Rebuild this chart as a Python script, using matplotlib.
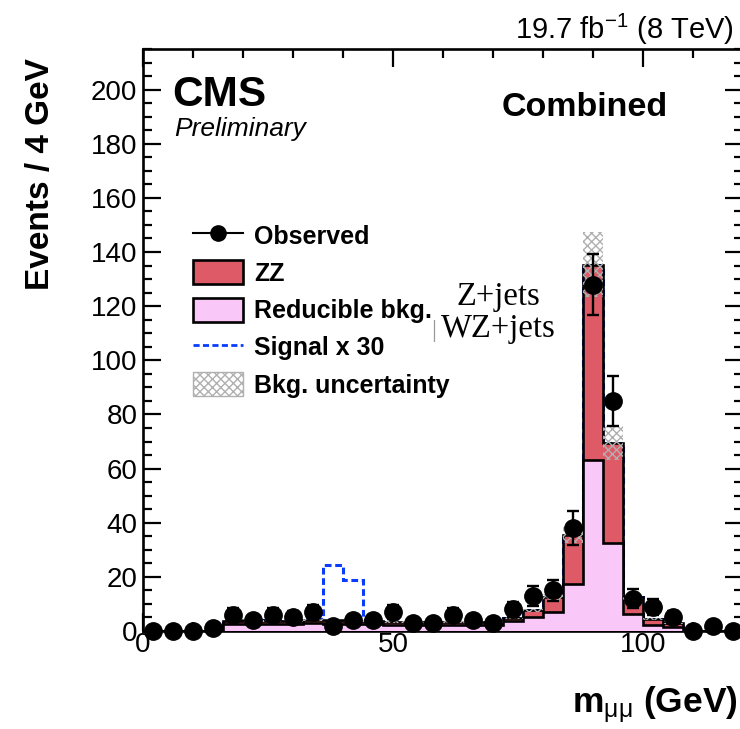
import numpy as np
import matplotlib
matplotlib.use("Agg")
import matplotlib.pyplot as plt
from matplotlib.patches import Patch
from matplotlib.lines import Line2D
from matplotlib.ticker import MultipleLocator

plt.rcParams['font.family'] = ['Liberation Sans', 'DejaVu Sans']
plt.rcParams['mathtext.fontset'] = 'custom'
plt.rcParams['mathtext.rm'] = 'Liberation Sans'
plt.rcParams['mathtext.it'] = 'Liberation Sans:italic'
plt.rcParams['mathtext.bf'] = 'Liberation Sans:bold'
plt.rcParams['hatch.linewidth'] = 1.0

# ---------------- data ----------------
bin_edges = np.arange(0, 124, 4)  # 0..120 GeV, 4 GeV bins (30 bins)

observed = [0, 0, 0, 1, 6, 4, 6, 5, 7, 2, 4, 4, 7, 3, 3,
            6, 4, 3, 8, 13, 15, 38, 128, 85, 12, 9, 5, 0, 2, 0]

zz = [0, 0, 0, 0, 1.1, 1.2, 1.2, 1.1, 1.2, 1.3, 1.2, 1.1, 1.0, 1.0, 1.1,
      1.0, 1.0, 1.1, 1.2, 2.4, 5.6, 18.0, 72.1, 37.2, 6.2, 2.0, 1.2, 0, 0, 0]

reducible = [0, 0, 0, 0, 2.6, 2.7, 2.6, 2.7, 2.8, 2.6, 2.6, 2.5, 2.4, 2.3, 2.3,
             2.3, 2.2, 2.3, 3.7, 5.2, 7.0, 17.5, 63.2, 32.4, 6.2, 2.4, 1.6, 0, 0, 0]

signal_x30 = [0, 0, 0, 0, 0, 0, 0, 0.1, 0.4, 20.5, 14.9, 0.3, 0.1, 0, 0,
              0, 0, 0, 0, 0.1, 0, 0, 0, 0, 0, 0, 0, 0, 0, 0]

bkg_unc = [0, 0, 0, 0, 0.4, 0.4, 0.4, 0.4, 0.4, 0.4, 0.4, 0.4, 0.4, 0.4, 0.4,
           0.4, 0.4, 0.4, 0.5, 0.7, 1.1, 3.0, 12.0, 6.5, 1.1, 0.4, 0.3, 0, 0, 0]

# ---------------- derived ----------------
edges = np.array(bin_edges, dtype=float)
centers = 0.5 * (edges[:-1] + edges[1:])
obs = np.array(observed, dtype=float)
red = np.array(reducible)
total = red + np.array(zz)
sig_line = total + np.array(signal_x30)
unc = np.array(bkg_unc)
obs_err = np.sqrt(obs)

RED = '#df5a67'
PINK = '#f9c8f9'
BLUE = '#0a3cff'
HATCH = '#b0b0b0'

fig = plt.figure(figsize=(7.40, 7.29), dpi=100)
ax = fig.add_axes([143/740, 1 - 631/729, 600/740, 582/729])

# signal (stacked on top of background)
ax.stairs(sig_line, edges, baseline=None, color=BLUE, linewidth=2.2,
          linestyle=(0, (2.2, 1.2)), zorder=1)
# stacked backgrounds
ax.stairs(total, edges, fill=True, facecolor=RED, edgecolor='black',
          linewidth=1.9, zorder=2)
ax.stairs(red, edges, fill=True, facecolor=PINK, edgecolor='black',
          linewidth=1.9, zorder=3)
# uncertainty band
ax.stairs(total + unc, edges, baseline=total - unc, fill=True,
          facecolor='none', edgecolor=HATCH, hatch='xxxx', linewidth=0,
          zorder=4)
# data
ax.errorbar(centers, obs, yerr=obs_err, fmt='o', color='black', markersize=12.5,
            elinewidth=1.7, capsize=4, capthick=1.7, zorder=6, clip_on=False)

ax.set_xlim(0, 120)
ax.set_ylim(0, 215)
ax.xaxis.set_major_locator(MultipleLocator(50))
ax.xaxis.set_minor_locator(MultipleLocator(10))
ax.yaxis.set_major_locator(MultipleLocator(20))
ax.yaxis.set_minor_locator(MultipleLocator(5))
ax.tick_params(which='both', direction='in', top=True, right=True,
               labelsize=20, width=1.6)
ax.tick_params(which='major', length=13)
ax.tick_params(which='minor', length=6.5)
ax.tick_params(axis='x', pad=1)
ax.tick_params(axis='y', pad=4)
for s in ax.spines.values():
    s.set_linewidth(1.9)

# legend
handles = [
    Line2D([], [], color='black', marker='o', markersize=11, linewidth=1.5),
    Patch(facecolor=RED, edgecolor='black', linewidth=1.9),
    Patch(facecolor=PINK, edgecolor='black', linewidth=1.9),
    Line2D([], [], color=BLUE, linewidth=2.0, linestyle=(0, (2.2, 1.2))),
    Patch(facecolor='white', edgecolor=HATCH, hatch='xxxx', linewidth=1.0),
]
labels = ['Observed', 'ZZ', 'Reducible bkg.', 'Signal x 30', 'Bkg. uncertainty']
fig.legend(handles, labels, loc='upper left',
           bbox_to_anchor=(193/740, 1 - 223/729), frameon=False,
           prop={'weight': 'bold', 'size': 18}, handlelength=2.0,
           handleheight=1.1, handletextpad=0.45, labelspacing=0.47,
           borderpad=0, borderaxespad=0)

# annotations
fig.text(172/740, 1 - 95/729, 'CMS', fontsize=30.5, fontweight='bold',
         ha='left', va='center')
fig.text(174/740, 1 - 129/729, 'Preliminary', fontsize=19, style='italic',
         ha='left', va='center')
fig.text(502/740, 1 - 107/729, 'Combined', fontsize=24.5, fontweight='bold',
         ha='left', va='center')
fig.text(734/740, 1 - 29/729, r'19.7 fb$^{\mathrm{-1}}$ (8 TeV)', fontsize=21,
         ha='right', va='center')
fig.text(457/740, 1 - 297/729, 'Z+jets', fontsize=23.5,
         family='Liberation Serif', ha='left', va='center')
fig.text(441/740, 1 - 329/729, 'WZ+jets', fontsize=23.5,
         family='Liberation Serif', ha='left', va='center')
fig.text(431/740, 1 - 331/729, '|', fontsize=18, color='#999999',
         family='Liberation Serif', ha='left', va='center')

fig.text(41/740, 1 - 58/729, 'Events / 4 GeV', fontsize=24, fontweight='bold',
         rotation=90, ha='center', va='top')
fig.text(738/740, 1 - 705/729, r'm$_{\mathrm{μμ}}$ (GeV)', fontsize=25.5,
         fontweight='bold', ha='right', va='center')

fig.savefig('out.png', dpi=100)
